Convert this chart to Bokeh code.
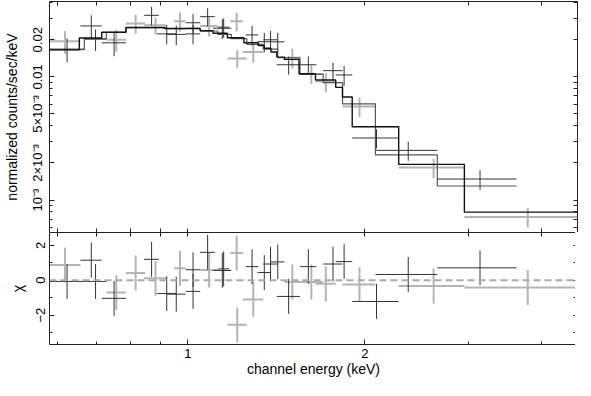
from bokeh.plotting import figure
from bokeh.models import Range1d, LogAxis, LinearAxis, FixedTicker, Span, ColumnDataSource
from bokeh.layouts import column
from bokeh.embed import file_html
from bokeh.resources import INLINE

# ---------------- data ----------------
# crosses drawn in dark grey
dark_lo   = [0.580, 0.657, 0.667, 0.714, 0.843, 0.886, 0.920, 0.992, 0.992, 1.050, 1.104, 1.125,
             1.255, 1.314, 1.344, 1.385, 1.417, 1.552, 1.699, 1.785, 1.904, 2.085, 2.657]
dark_hi   = [0.667, 0.714, 0.727, 0.785, 0.893, 0.956, 0.992, 1.050, 1.050, 1.112, 1.186, 1.177,
             1.318, 1.385, 1.422, 1.460, 1.552, 1.655, 1.833, 1.904, 2.284, 2.657, 3.624]
dark_flux = [0.0168, 0.02589, 0.02024, 0.0189, 0.0316, 0.02233, 0.0221, 0.0275, 0.02233, 0.0308, 0.0248, 0.0253,
             0.0219, 0.0193, 0.0200, 0.01925, 0.01254, 0.01254, 0.01123, 0.01036, 0.00319, 0.00253, 0.001481]
dark_err  = [0.0037, 0.0057, 0.0040, 0.0042, 0.0054, 0.0040, 0.0040, 0.0048, 0.0040, 0.0052, 0.0045, 0.0045,
             0.0040, 0.0035, 0.0036, 0.0035, 0.0021, 0.0021, 0.0018, 0.0019, 0.00057, 0.00045, 0.00027]
dark_chi  = [-0.07, 1.15, -0.07, -1.04, 1.20, -0.76, -0.80, 0.60, -0.64, 1.60, 0.56, 0.65,
             0.78, 0.44, 0.93, 1.05, -0.93, 0.78, 0.93, 1.07, -1.22, 0.33, 0.71]

# crosses drawn in light grey
light_lo   = [0.580, 0.727, 0.785, 0.843, 0.948, 1.050, 1.181, 1.168, 1.241, 1.460, 1.546, 1.649, 1.833, 2.284, 2.954]
light_hi   = [0.657, 0.785, 0.846, 0.920, 0.992, 1.125, 1.241, 1.260, 1.344, 1.552, 1.699, 1.785, 2.085, 2.954, 4.618]
light_flux = [0.01946, 0.0200, 0.02716, 0.02622, 0.0283, 0.0259, 0.0283, 0.01411, 0.0159, 0.01429, 0.01055,
              0.00915, 0.00575, 0.001835, 0.000729]
light_err  = [0.0041, 0.0040, 0.0048, 0.0040, 0.0050, 0.0046, 0.0048, 0.0023, 0.0029, 0.0026, 0.0018,
              0.0016, 0.00103, 0.00033, 0.00013]
light_chi  = [0.87, -0.71, 0.42, 0.11, 0.69, 0.58, 1.56, -2.56, -1.10, -0.10, -0.10, -0.20, -0.25, -0.33, -0.42]

# model step curves (bin edges and value per bin)
modelA_edges = [0.580, 0.654, 0.714, 0.785, 0.913, 0.974, 1.050, 1.104, 1.168, 1.246, 1.318, 1.349,
                1.385, 1.417, 1.460, 1.546, 1.649, 1.785, 1.833, 1.904, 2.284, 2.954, 4.618]
modelA_vals  = [0.01657, 0.02067, 0.02301, 0.02516, 0.02472, 0.02472, 0.02368, 0.02261, 0.02078, 0.01891,
                0.01793, 0.01708, 0.01590, 0.01447, 0.01386, 0.01061, 0.00943, 0.00822, 0.00687,
                0.003932, 0.001946, 0.000797]
modelB_edges = [0.580, 0.667, 0.727, 0.785, 0.846, 0.920, 0.992, 1.050, 1.125, 1.186, 1.260, 1.344,
                1.422, 1.552, 1.699, 1.833, 2.085, 2.657, 3.624]
modelB_vals  = [0.01663, 0.02042, 0.02294, 0.02507, 0.02507, 0.02463, 0.02472, 0.02356, 0.02213, 0.02042,
                0.01835, 0.01678, 0.01429, 0.01046, 0.00899, 0.00604, 0.002326, 0.001300]

# ticks and labels
x_major = [1, 2]
x_minor = [0.6, 0.7, 0.8, 0.9, 3, 4]
x_labels = {1: "1", 2: "2"}
flux_major = [0.001, 0.002, 0.005, 0.01, 0.02]
flux_minor = [0.0006, 0.0007, 0.0008, 0.0009, 0.003, 0.004, 0.006, 0.007, 0.008, 0.009, 0.03, 0.04]
flux_labels = {0.001: "10⁻³", 0.002: "2×10⁻³", 0.005: "5×10⁻³", 0.01: "0.01", 0.02: "0.02"}
chi_major = [-2, 0, 2]
chi_minor = [-3, -1, 1]
chi_labels = {-2: "−2", 0: "0", 2: "2"}

FONT = "Liberation Sans"
TICK_FS = "13px"
LABEL_FS = "14px"
AX = "#222222"
DARK = "#333333"
LIGHT = "#b4b4b4"

x_range = Range1d(0.582, 4.60)


def line_style(ax):
    ax.axis_line_color = AX
    ax.axis_line_width = 1
    ax.major_tick_line_color = AX
    ax.minor_tick_line_color = AX
    ax.major_tick_out = 0
    ax.minor_tick_out = 0
    return ax


def labelled_axis(ax, major, minor, labels, title):
    line_style(ax)
    ax.ticker = FixedTicker(ticks=major, minor_ticks=minor)
    ax.major_tick_in = 5
    ax.minor_tick_in = 3
    ax.major_label_overrides = labels
    ax.major_label_text_font = FONT
    ax.major_label_text_font_size = TICK_FS
    ax.major_label_text_color = "black"
    ax.major_label_standoff = 4
    ax.axis_label = title
    ax.axis_label_text_font = FONT
    ax.axis_label_text_font_size = LABEL_FS
    ax.axis_label_text_font_style = "normal"
    ax.axis_label_text_color = "black"
    return ax


def mirror_axis(ax, major, minor):
    # tick marks only, no labels: every tick handled as a minor tick
    line_style(ax)
    ax.ticker = FixedTicker(ticks=[], minor_ticks=sorted(major + minor))
    ax.minor_tick_in = 4
    ax.major_tick_in = 0
    ax.major_label_standoff = 0
    return ax


def crosses(p, lo, hi, yc, ylo, yhi, color, width):
    xc = [(a + b) / 2 for a, b in zip(lo, hi)]
    src = ColumnDataSource(dict(lo=lo, hi=hi, xc=xc, yc=yc, ylo=ylo, yhi=yhi))
    p.segment(x0="lo", x1="hi", y0="yc", y1="yc", source=src, line_color=color, line_width=width)
    p.segment(x0="xc", x1="xc", y0="ylo", y1="yhi", source=src, line_color=color, line_width=width)


def base_fig(y_range, y_type, fh, **kw):
    p = figure(frame_width=528, frame_height=fh, x_range=x_range, y_range=y_range,
               x_axis_type="log", y_axis_type=y_type, x_axis_location=None, y_axis_location=None,
               output_backend="svg", toolbar_location=None, min_border_left=46, min_border_right=1,
               background_fill_color="white", border_fill_color="white", **kw)
    p.xgrid.visible = False
    p.ygrid.visible = False
    p.outline_line_color = None
    return p


# ---------------- top panel ----------------
p1 = base_fig(Range1d(5.45e-4, 0.0409), "log", 231, min_border_top=1, min_border_bottom=0)
ly = labelled_axis(LogAxis(), flux_major, flux_minor, flux_labels, "normalized counts/sec/keV")
ly.major_label_orientation = "vertical"
ly.axis_label_standoff = 8
p1.add_layout(ly, "left")
p1.add_layout(mirror_axis(LogAxis(), flux_major, flux_minor), "right")
p1.add_layout(mirror_axis(LogAxis(), x_major, x_minor), "above")
p1.add_layout(mirror_axis(LogAxis(), x_major, x_minor), "below")

crosses(p1, light_lo, light_hi, light_flux,
        [f - e for f, e in zip(light_flux, light_err)], [f + e for f, e in zip(light_flux, light_err)],
        LIGHT, 2)
crosses(p1, dark_lo, dark_hi, dark_flux,
        [f - e for f, e in zip(dark_flux, dark_err)], [f + e for f, e in zip(dark_flux, dark_err)],
        DARK, 1)
p1.step(x=modelB_edges, y=modelB_vals + modelB_vals[-1:], mode="after", line_color="#555555", line_width=1.2)
p1.step(x=modelA_edges, y=modelA_vals + modelA_vals[-1:], mode="after", line_color="#111111", line_width=1.4)

# ---------------- residual panel ----------------
p2 = base_fig(Range1d(-3.69, 2.74), "linear", 112, min_border_top=0, min_border_bottom=0)
cy = labelled_axis(LinearAxis(), chi_major, chi_minor, chi_labels, "χ")
cy.major_label_orientation = "vertical"
cy.axis_label_standoff = 8
p2.add_layout(cy, "left")
p2.add_layout(mirror_axis(LinearAxis(), chi_major, chi_minor), "right")
p2.add_layout(mirror_axis(LogAxis(), x_major, x_minor), "above")
bx = labelled_axis(LogAxis(), x_major, x_minor, x_labels, "channel energy (keV)")
bx.axis_label_standoff = 0
p2.add_layout(bx, "below")

p2.add_layout(Span(location=0, dimension="width", line_color="#aaaaaa", line_width=2, line_dash="7 4"))
crosses(p2, light_lo, light_hi, light_chi,
        [c - 1 for c in light_chi], [c + 1 for c in light_chi], LIGHT, 2)
crosses(p2, dark_lo, dark_hi, dark_chi,
        [c - 1 for c in dark_chi], [c + 1 for c in dark_chi], DARK, 1)

layout = column(p1, p2)
open("out.html", "w").write(file_html(layout, INLINE))
